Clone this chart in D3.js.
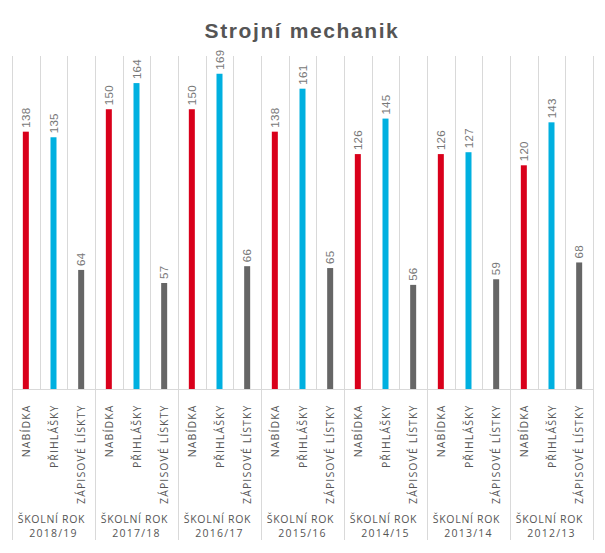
<!DOCTYPE html>
<html><head><meta charset="utf-8">
<script src="https://cdn.jsdelivr.net/npm/d3@7"></script>
<style>body{margin:0;background:#fff}svg{display:block}</style>
</head><body><svg id="c" width="605" height="553"></svg>
<script>
const years = ["2018/19","2017/18","2016/17","2015/16","2014/15","2013/14","2012/13"];
const seriesNames = ["NABÍDKA","PŘIHLÁŠKY","ZÁPISOVÉ LÍSTKY"];
const zapisLabels = ["ZÁPISOVÉ LÍSKTY","ZÁPISOVÉ LÍSKTY","ZÁPISOVÉ LÍSTKY","ZÁPISOVÉ LÍSTKY","ZÁPISOVÉ LÍSTKY","ZÁPISOVÉ LÍSTKY","ZÁPISOVÉ LÍSTKY"];
const nabidka = [138,150,150,138,126,126,120];
const prihlasky = [135,164,169,161,145,127,143];
const zapisove = [64,57,66,65,56,59,68];
const colors = ["#d9001b","#00b0e0","#666666"];
const title = "Strojní mechanik";

(function(){
const svg = d3.select("#c");
const left = 12, right = 593, plotTop = 56, base = 389.5;
const data = [];
years.forEach((yr,i)=>{
  [nabidka,prihlasky,zapisove].forEach((arr,j)=>{
    data.push({year:yr, gi:i, si:j, value:arr[i], label: j===2 ? zapisLabels[i] : seriesNames[j]});
  });
});
const x = d3.scaleBand().domain(d3.range(data.length)).range([left,right]).padding(0);
const y = d3.scaleLinear().domain([0,178.5]).range([base, plotTop]);
const bw = x.bandwidth();

svg.append("text").attr("x",302).attr("y",38).attr("text-anchor","middle")
  .attr("font-family","Liberation Sans, Arial, sans-serif").attr("font-weight","bold")
  .attr("font-size",21).style("letter-spacing","1.6px").attr("fill","#555").text(title);

const g = svg.append("g");
d3.range(data.length+1).forEach(k=>{
  const xx = Math.round(left + k*bw)+0.5;
  const isGroup = k%3===0;
  g.append("line").attr("x1",xx).attr("x2",xx).attr("y1",plotTop).attr("y2",isGroup?540:base)
   .attr("stroke","#d9d9d9").attr("stroke-width",1);
});
g.append("line").attr("x1",left).attr("x2",right).attr("y1",base).attr("y2",base).attr("stroke","#d9d9d9");

svg.selectAll("rect.bar").data(data).join("rect").attr("class","bar")
  .attr("x",(d,i)=>x(i)+bw/2-3).attr("width",6)
  .attr("y",d=>y(d.value)).attr("height",d=>base-y(d.value)-0.5)
  .attr("fill",d=>colors[d.si]);

svg.selectAll("text.val").data(data).join("text").attr("class","val")
  .attr("transform",(d,i)=>`translate(${x(i)+bw/2+4},${y(d.value)-4}) rotate(-90)`)
  .attr("font-family","Liberation Sans, Arial, sans-serif").attr("font-size",11.5)
  .style("letter-spacing","0.3px")
  .attr("fill","#777").text(d=>d.value);

svg.selectAll("text.cat").data(data).join("text").attr("class","cat")
  .attr("transform",(d,i)=>`translate(${x(i)+bw/2+4},${base+15}) rotate(-90)`)
  .attr("text-anchor","end")
  .attr("font-family","Open Sans, sans-serif").attr("font-size",10.5).style("letter-spacing","1.1px")
  .attr("fill","#555").text(d=>d.label);

years.forEach((yr,i)=>{
  const cx = left + (i*3+1.5)*bw - 2;
  svg.append("text").attr("x",cx).attr("y",523).attr("text-anchor","middle")
    .attr("font-family","Open Sans, sans-serif").attr("font-size",10.5).style("letter-spacing","0.7px")
    .attr("fill","#555").text("ŠKOLNÍ ROK");
  svg.append("text").attr("x",cx+2).attr("y",537).attr("text-anchor","middle")
    .attr("font-family","Open Sans, sans-serif").attr("font-size",10.5).style("letter-spacing","1.2px")
    .attr("fill","#555").text(yr);
});
})();
</script></body></html>
